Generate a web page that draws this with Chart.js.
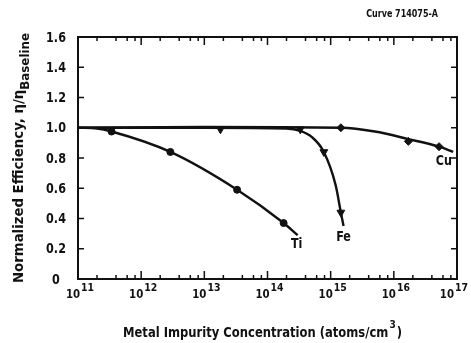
<!DOCTYPE html>
<html>
<head>
<meta charset="utf-8">
<script src="https://cdn.jsdelivr.net/npm/chart.js@4/dist/chart.umd.min.js"></script>
<style>
  html, body { margin: 0; padding: 0; background: #fff; }
  canvas { display: block; }
</style>
</head>
<body>
<canvas id="effChart" width="471" height="343"></canvas>
<script>
// Normalized efficiency vs metal impurity concentration (Ti, Fe, Cu)

// measured points
const tiPointsX = [3.4e11, 2.9e12, 3.3e13, 1.8e14];
const tiPointsY = [0.975, 0.84, 0.59, 0.37];
const fePointsX = [1.8e13, 3.3e14, 7.8e14, 1.45e15];
const fePointsY = [0.99, 0.99, 0.84, 0.44];
const cuPointsX = [1.45e15, 1.7e16, 5.2e16];
const cuPointsY = [1.0, 0.91, 0.875];

// hand-drawn trend curves
const tiCurveX = [1e11, 2e11, 3.4e11, 2.9e12, 3.3e13, 1.8e14, 3e14];
const tiCurveY = [1.0, 0.995, 0.975, 0.84, 0.59, 0.37, 0.29];
const feCurveX = [1e11, 1e13, 2e14, 3.3e14, 5e14, 7.8e14, 1.2e15, 1.45e15, 1.6e15];
const feCurveY = [1.0, 1.0, 0.995, 0.98, 0.94, 0.84, 0.62, 0.44, 0.35];
const cuCurveX = [1e11, 1e13, 1.45e15, 5e15, 1.7e16, 5.2e16, 8.7e16];
const cuCurveY = [1.0, 1.005, 1.0, 0.975, 0.925, 0.875, 0.84];

// curve labels
const curveNames = ['Ti', 'Fe', 'Cu'];
const curveLabelX = [2.9e14, 1.6e15, 6.2e16];
const curveLabelY = [0.23, 0.275, 0.78];

// axes
const xMin = 1e11, xMax = 1e17;
const xDecades = [11, 12, 13, 14, 15, 16, 17];
const xMinorSteps = [2, 4, 6, 8];
const yTicks = [0, 0.2, 0.4, 0.6, 0.8, 1.0, 1.2, 1.4, 1.6];
const yTickLabels = ['0', '0.2', '0.4', '0.6', '0.8', '1.0', '1.2', '1.4', '1.6'];

const FONT = '"DejaVu Sans", sans-serif';
const INK = '#111';

const toXY = (xs, ys) => xs.map((x, i) => ({ x: x, y: ys[i] }));

const curve = (xs, ys) => ({
    type: 'line',
    data: toXY(xs, ys),
    borderColor: INK,
    borderWidth: 2.4,
    pointRadius: 0,
    fill: false,
    cubicInterpolationMode: 'monotone',
    order: 2
});

const marks = (xs, ys, style, size, rot) => ({
    type: 'scatter',
    data: toXY(xs, ys),
    pointStyle: style,
    pointRadius: size,
    rotation: rot || 0,
    backgroundColor: INK,
    borderColor: INK,
    borderWidth: 1,
    showLine: false,
    order: 1
});

// condensed bold text: squeeze horizontally by sx
function textWidth(ctx, s, size, sx) {
    ctx.font = 'bold ' + size + 'px ' + FONT;
    return ctx.measureText(s).width * sx;
}
function drawText(ctx, s, x, y, size, sx, align, baseline) {
    ctx.save();
    ctx.translate(x, y);
    ctx.scale(sx, 1);
    ctx.font = 'bold ' + size + 'px ' + FONT;
    ctx.textAlign = align || 'left';
    ctx.textBaseline = baseline || 'alphabetic';
    ctx.fillText(s, 0, 0);
    ctx.restore();
}

const framePlugin = {
    id: 'frame',
    afterDraw(chart) {
        const ctx = chart.ctx;
        const a = chart.chartArea;
        const xs = chart.scales.x, ys = chart.scales.y;
        ctx.save();
        ctx.strokeStyle = INK;
        ctx.fillStyle = INK;

        // box
        ctx.lineWidth = 2;
        ctx.strokeRect(a.left, a.top, a.right - a.left, a.bottom - a.top);

        // x ticks (inside, bottom and top) and 10^n labels
        ctx.lineWidth = 1.5;
        xDecades.forEach((d, i) => {
            const base = Math.pow(10, d);
            const px = xs.getPixelForValue(base);
            ctx.beginPath();
            ctx.moveTo(px, a.bottom); ctx.lineTo(px, a.bottom - 8);
            ctx.moveTo(px, a.top); ctx.lineTo(px, a.top + 8);
            ctx.stroke();
            if (i < xDecades.length - 1) {
                xMinorSteps.forEach(m => {
                    const mx = xs.getPixelForValue(m * base);
                    ctx.beginPath();
                    ctx.moveTo(mx, a.bottom); ctx.lineTo(mx, a.bottom - 4);
                    ctx.moveTo(mx, a.top); ctx.lineTo(mx, a.top + 4);
                    ctx.stroke();
                });
            }
            const w10 = textWidth(ctx, '10', 12, 0.85);
            const wExp = textWidth(ctx, String(d), 11, 0.85);
            const total = w10 + wExp + 1;
            const x0 = Math.min(px - total / 2 + 2, 468 - total);
            drawText(ctx, '10', x0, a.bottom + 19, 12, 0.85);
            drawText(ctx, String(d), x0 + w10 + 1, a.bottom + 12, 11, 0.85);
        });

        // y ticks (inside, left and right) and labels
        yTicks.forEach((v, i) => {
            const py = ys.getPixelForValue(v);
            ctx.beginPath();
            ctx.moveTo(a.left, py); ctx.lineTo(a.left + 6, py);
            ctx.moveTo(a.right, py); ctx.lineTo(a.right - 6, py);
            ctx.stroke();
            drawText(ctx, yTickLabels[i], 56, py + 1, 14, 0.8, 'center', 'middle');
        });

        // curve labels
        curveNames.forEach((n, i) => {
            drawText(ctx, n, xs.getPixelForValue(curveLabelX[i]), ys.getPixelForValue(curveLabelY[i]),
                14, 0.8, 'center', 'middle');
        });

        // x title, squeezed to the reference width
        const xt1 = 'Metal Impurity Concentration (atoms/cm';
        const raw = textWidth(ctx, xt1, 14, 1) + textWidth(ctx, '3', 11, 1) + textWidth(ctx, ')', 14, 1);
        const sxT = 277 / raw;
        const w1 = textWidth(ctx, xt1, 14, sxT);
        const w3 = textWidth(ctx, '3', 11, sxT);
        const tx = 123;
        drawText(ctx, xt1, tx, 337, 14, sxT);
        drawText(ctx, '3', tx + w1 + 1, 328, 11, sxT);
        drawText(ctx, ')', tx + w1 + w3 + 2, 337, 14, sxT);

        // y title (rotated), squeezed to the reference length
        ctx.save();
        ctx.translate(23, 283);
        ctx.rotate(-Math.PI / 2);
        const yt = 'Normalized Efficiency, \u03b7/\u03b7';
        const rawY = textWidth(ctx, yt, 14, 1) + textWidth(ctx, 'Baseline', 12.5, 1);
        const syT = 250 / rawY;
        const wy = textWidth(ctx, yt, 14, syT);
        drawText(ctx, yt, 0, 0, 14, syT);
        drawText(ctx, 'Baseline', wy, 6, 12.5, syT);
        ctx.restore();

        // figure id
        drawText(ctx, 'Curve 714075-A', 438, 17, 10, 0.8, 'right');

        ctx.restore();
    }
};

const chart = new Chart(document.getElementById('effChart'), {
    type: 'line',
    data: {
        datasets: [
            curve(tiCurveX, tiCurveY),
            curve(feCurveX, feCurveY),
            curve(cuCurveX, cuCurveY),
            marks(tiPointsX, tiPointsY, 'circle', 3.5),
            marks(fePointsX, fePointsY, 'triangle', 4.5, 180),
            marks(cuPointsX, cuPointsY, 'rectRot', 4)
        ]
    },
    options: {
        responsive: false,
        animation: false,
        devicePixelRatio: 1,
        layout: { padding: { left: 78, right: 14, top: 37, bottom: 64 } },
        plugins: { legend: { display: false }, tooltip: { enabled: false } },
        scales: {
            x: { type: 'logarithmic', min: xMin, max: xMax, display: false },
            y: { type: 'linear', min: 0, max: 1.6, display: false }
        }
    },
    plugins: [framePlugin]
});
</script>
</body>
</html>
